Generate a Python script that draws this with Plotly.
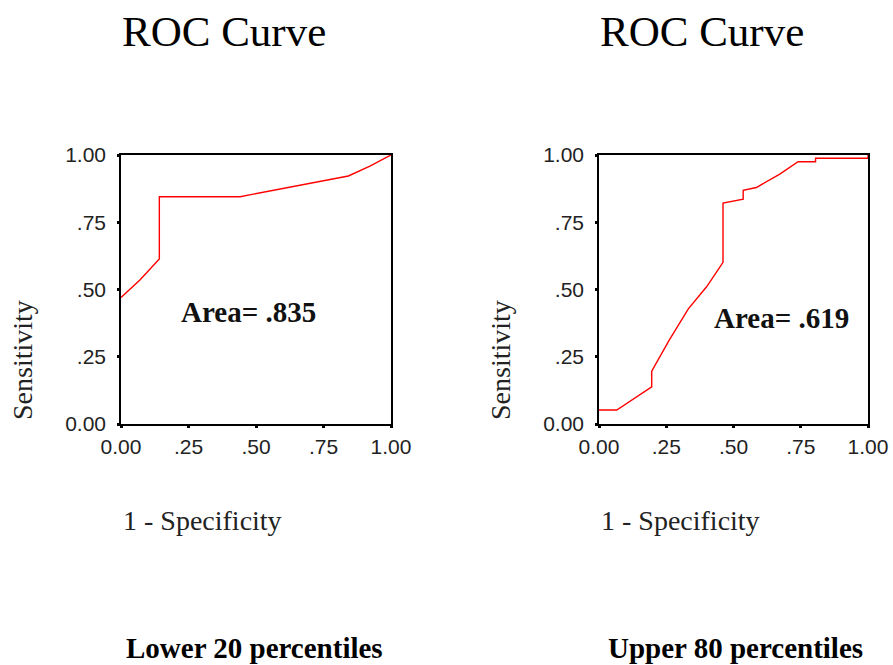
import plotly.graph_objects as go

# ---- data ----
tick_vals = [0.0, 0.25, 0.5, 0.75, 1.0]
tick_text = ["0.00", ".25", ".50", ".75", "1.00"]

left_fpr = [0.0, 0.070, 0.142, 0.142, 0.441, 0.55, 0.65, 0.75, 0.842, 0.92, 1.0]
left_tpr = [0.47, 0.535, 0.613, 0.845, 0.845, 0.866, 0.884, 0.903, 0.922, 0.958, 1.0]

right_fpr = [0.0, 0.066, 0.196, 0.196, 0.26, 0.332, 0.40, 0.461, 0.461, 0.536, 0.536,
             0.585, 0.672, 0.740, 0.805, 0.805, 1.0, 1.0]
right_tpr = [0.052, 0.052, 0.138, 0.196, 0.31, 0.428, 0.51, 0.601, 0.821, 0.836, 0.869,
             0.879, 0.929, 0.975, 0.975, 0.988, 0.988, 1.0]

titles = ["ROC Curve", "ROC Curve"]
captions = ["Lower 20 percentiles", "Upper 80 percentiles"]
areas = ["Area= .835", "Area= .619"]
area_pos = [(0.474, 0.416), (0.677, 0.393)]
x_title = "1 - Specificity"
y_title = "Sensitivity"

SERIF = "Liberation Serif, Times New Roman, serif"
SANS = "Liberation Sans, Arial, sans-serif"

W, H = 893, 665

fig = go.Figure()
fig.add_trace(go.Scatter(x=left_fpr, y=left_tpr, mode="lines",
                         line=dict(color="#ff0000", width=1.4),
                         xaxis="x", yaxis="y", showlegend=False))
fig.add_trace(go.Scatter(x=right_fpr, y=right_tpr, mode="lines",
                         line=dict(color="#ff0000", width=1.4),
                         xaxis="x2", yaxis="y2", showlegend=False))

y_dom = [1 - 424 / H, 1 - 155 / H]
x_doms = [[121 / W, 391 / W], [599 / W, 868 / W]]

axis_common = dict(
    range=[0, 1], showgrid=False, zeroline=False, showline=True,
    linecolor="black", linewidth=1.5, mirror=True,
    ticks="outside", ticklen=2, tickwidth=3, tickcolor="black",
    tickvals=tick_vals, ticktext=tick_text,
    tickfont=dict(family=SANS, size=21, color="#222222"),
    ticklabeloverflow="allow",
    fixedrange=True,
)

layout = dict(
    width=W, height=H, margin=dict(l=0, r=0, t=0, b=0, autoexpand=False),
    paper_bgcolor="white", plot_bgcolor="white", showlegend=False,
    xaxis=dict(domain=x_doms[0], anchor="y", ticklabelstandoff=1, **axis_common),
    yaxis=dict(domain=y_dom, anchor="x", ticklabelstandoff=7, **axis_common),
    xaxis2=dict(domain=x_doms[1], anchor="y2", ticklabelstandoff=1, **axis_common),
    yaxis2=dict(domain=y_dom, anchor="x2", ticklabelstandoff=7, **axis_common),
)
fig.update_layout(**layout)

anns = []
for i, (xr, yr) in enumerate([("x", "y"), ("x2", "y2")]):
    xd, yd = xr + " domain", yr + " domain"
    anns.append(dict(text=titles[i], xref=xd, yref=yd, x=0, y=1, xanchor="left",
                     yanchor="middle", xshift=-1, yshift=123, showarrow=False,
                     font=dict(family=SERIF, size=43, color="black")))
    anns.append(dict(text=x_title, xref=xd, yref=yd, x=0, y=0, xanchor="left",
                     yanchor="middle", xshift=0, yshift=-96, showarrow=False,
                     font=dict(family=SERIF, size=28, color="#222222")))
    anns.append(dict(text=y_title, xref=xd, yref=yd, x=0, y=0, xanchor="center",
                     yanchor="bottom", xshift=-99, yshift=2, textangle=-90,
                     showarrow=False,
                     font=dict(family=SERIF, size=28, color="#222222")))
    anns.append(dict(text="<b>" + captions[i] + "</b>", xref=xd, yref=yd, x=0, y=0,
                     xanchor="left", yanchor="middle", xshift=3 + 4 * i, yshift=-224,
                     showarrow=False,
                     font=dict(family=SERIF, size=29, color="black")))
    anns.append(dict(text="<b>" + areas[i] + "</b>", xref=xr, yref=yr,
                     x=area_pos[i][0], y=area_pos[i][1], xanchor="center",
                     yanchor="middle", showarrow=False,
                     font=dict(family=SERIF, size=29, color="#111111")))

fig.update_layout(annotations=anns)
fig.write_html(
    "out.html",
    config={"displayModeBar": False},
    post_script="document.body.style.margin='0';document.body.style.overflow='hidden';",
)
